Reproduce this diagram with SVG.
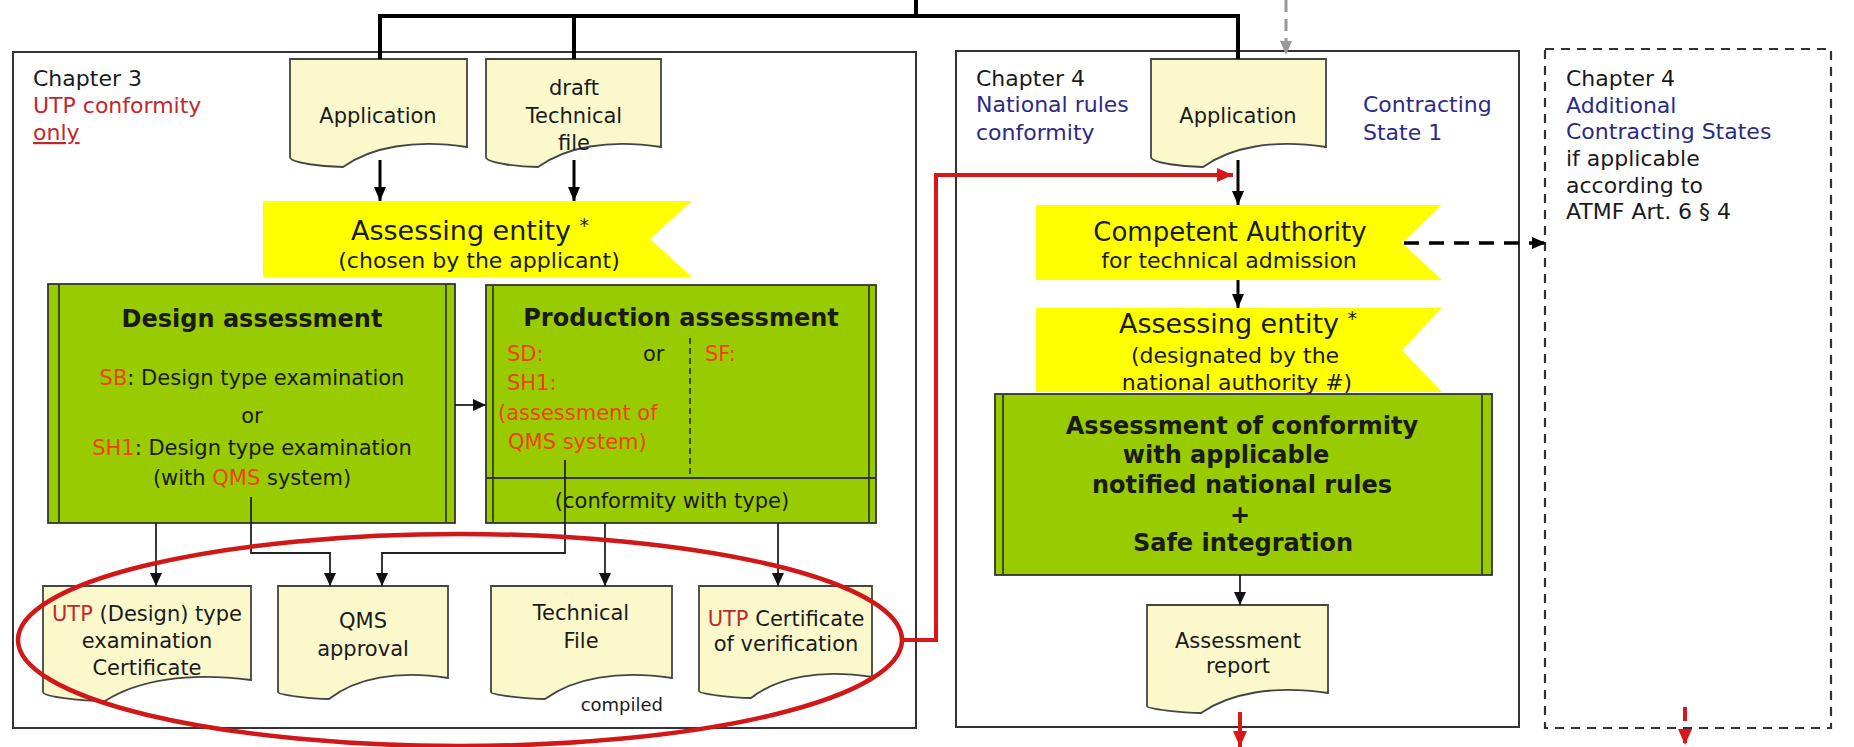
<svg xmlns="http://www.w3.org/2000/svg" width="1854" height="747" viewBox="0 0 1854 747">
<style>
  text { font-family: "DejaVu Sans", "Liberation Sans", sans-serif; fill: #1a1a1a; }
  .t { font-size: 22px; }
  .s { font-size: 21px; }
  .c { text-anchor: middle; }
  .b { font-weight: bold; font-size: 24px; }
  .big { font-size: 27px; }
  .red { fill: #C0282D; }
  .or { fill: #F0400F; }
  .navy { fill: #2B2B85; }
  .frame { fill: #fff; stroke: #333; stroke-width: 2; }
  .dframe { fill: #fff; stroke: #333; stroke-width: 2.2; stroke-dasharray: 9 7; }
  .doc { fill: #FBF8CC; stroke: #444; stroke-width: 1.8; }
  .green { fill: #99CC00; stroke: #333; stroke-width: 1.8; }
  .inner { stroke: #3a4d00; stroke-width: 2; fill: none; }
  .banner { fill: #FFFF00; }
  .thick { stroke: #000; stroke-width: 4; fill: none; }
  .arr3 { stroke: #000; stroke-width: 3; fill: none; }
  .thin { stroke: #222; stroke-width: 1.8; fill: none; }
  .redl { stroke: #D81818; stroke-width: 4; fill: none; }
</style>
<defs>
  <marker id="ah" markerUnits="userSpaceOnUse" markerWidth="16" markerHeight="16" refX="14" refY="8" orient="auto">
    <path d="M0,2 L14,8 L0,14 z" fill="#000"/>
  </marker>
  <marker id="ahs" markerUnits="userSpaceOnUse" markerWidth="14" markerHeight="14" refX="13" refY="7" orient="auto">
    <path d="M0,1 L13,7 L0,13 z" fill="#111"/>
  </marker>
  <marker id="ahr" markerUnits="userSpaceOnUse" markerWidth="18" markerHeight="18" refX="16" refY="9" orient="auto">
    <path d="M0,2 L16,9 L0,16 z" fill="#D81818"/>
  </marker>
  <marker id="ahg" markerUnits="userSpaceOnUse" markerWidth="16" markerHeight="16" refX="14" refY="8" orient="auto">
    <path d="M0,2 L14,8 L0,14 z" fill="#999"/>
  </marker>
</defs>
<rect width="1854" height="747" fill="#fff"/>

<!-- chapter frames -->
<g id="chapter3">
  <rect class="frame" x="13" y="52" width="903" height="676"/>
  <text class="t" x="33" y="86">Chapter 3</text>
  <text class="t red" x="33" y="113">UTP conformity</text>
  <text class="t red" x="33" y="140" text-decoration="underline">only</text>
</g>
<g id="chapter4">
  <rect class="frame" x="956" y="51" width="563" height="676"/>
  <text class="t" x="976" y="86">Chapter 4</text>
  <text class="t navy" x="976" y="112">National rules</text>
  <text class="t navy" x="976" y="140">conformity</text>
  <text class="t navy" x="1363" y="112">Contracting</text>
  <text class="t navy" x="1363" y="140">State  1</text>
</g>
<g id="chapter4-additional">
  <rect class="dframe" x="1545" y="49" width="286" height="679"/>
  <text class="t" x="1566" y="86">Chapter 4</text>
  <text class="t navy" x="1566" y="113">Additional</text>
  <text class="t navy" x="1566" y="139">Contracting States</text>
  <text class="t" x="1566" y="166">if applicable</text>
  <text class="t" x="1566" y="193">according to</text>
  <text class="t" x="1566" y="219">ATMF Art. 6 § 4</text>
</g>

<!-- documents -->
<g id="doc-application-3">
  <path class="doc" d="M290,59 H467 V147 C414,139 371,147 343,167 C325,167 290,163 290,157 Z"/>
  <text class="s c" x="378" y="123">Application</text>
</g>
<g id="doc-draft-tf">
  <path class="doc" d="M486,59 H661 V147 C608,139 566,147 538,167 C520,167 486,163 486,157 Z"/>
  <text class="s c" x="574" y="95">draft</text>
  <text class="s c" x="574" y="123">Technical</text>
  <text class="s c" x="574" y="150">file</text>
</g>
<g id="doc-application-4">
  <path class="doc" d="M1151,59 H1326 V147 C1273,139 1231,147 1203,167 C1185,167 1151,163 1151,157 Z"/>
  <text class="s c" x="1238" y="123">Application</text>
</g>
<g id="doc-utp-type-cert">
  <path class="doc" d="M43,586 H251 V680 C188,672 138,680 105,701 C84,701 43,697 43,692 Z"/>
  <text class="s c" x="147" y="621"><tspan class="red">UTP</tspan> (Design) type</text>
  <text class="s c" x="147" y="648">examination</text>
  <text class="s c" x="147" y="675">Certificate</text>
</g>
<g id="doc-qms-approval">
  <path class="doc" d="M278,586 H448 V678 C397,670 356,678 329,699 C312,699 278,695 278,692 Z"/>
  <text class="s c" x="363" y="628">QMS</text>
  <text class="s c" x="363" y="656">approval</text>
</g>
<g id="doc-technical-file">
  <path class="doc" d="M491,586 H672 V678 C618,670 574,678 545,699 C527,699 491,695 491,692 Z"/>
  <text class="s c" x="581" y="620">Technical</text>
  <text class="s c" x="581" y="648">File</text>
  <text x="663" y="711" style="font-size:18px;text-anchor:end">compiled</text>
</g>
<g id="doc-utp-verif-cert">
  <path class="doc" d="M699,586 H872 V677 C820,669 778,677 751,698 C733,698 699,694 699,691 Z"/>
  <text class="s c" x="786" y="626"><tspan class="red">UTP</tspan> Certificate</text>
  <text class="s c" x="786" y="651">of verification</text>
</g>
<g id="doc-assessment-report">
  <path class="doc" d="M1147,605 H1328 V693 C1274,685 1230,693 1201,713 C1183,713 1147,709 1147,706 Z"/>
  <text class="s c" x="1238" y="648">Assessment</text>
  <text class="s c" x="1238" y="673">report</text>
</g>

<!-- banners -->
<g id="banner-assessing-1">
  <polygon class="banner" points="263,201 692,201 650,239 692,277 263,277"/>
  <text class="big c" x="470" y="240">Assessing entity <tspan style="font-size:19px" dy="-8">*</tspan></text>
  <text class="t c" x="479" y="268">(chosen by the applicant)</text>
</g>
<g id="banner-competent">
  <polygon class="banner" points="1036,205 1442,205 1402,243 1442,280 1036,280"/>
  <text class="c" style="font-size:26px" x="1230" y="241">Competent Authority</text>
  <text class="t c" x="1229" y="268">for technical admission</text>
</g>
<g id="banner-assessing-2">
  <polygon class="banner" points="1036,308 1442,308 1402,350 1442,392 1036,392"/>
  <text class="big c" x="1238" y="333">Assessing entity <tspan style="font-size:19px" dy="-8">*</tspan></text>
  <text class="t c" x="1235" y="363">(designated by the</text>
  <text class="t c" x="1237" y="390">national authority #)</text>
</g>

<!-- green process boxes -->
<g id="design-assessment">
  <rect class="green" x="48" y="284" width="407" height="239"/>
  <line class="inner" x1="59" y1="285" x2="59" y2="522"/>
  <line class="inner" x1="446" y1="285" x2="446" y2="522"/>
  <text class="b c" x="252" y="327">Design assessment</text>
  <text class="s c" x="252" y="385"><tspan class="or">SB</tspan>: Design type examination</text>
  <text class="s c" x="252" y="423">or</text>
  <text class="s c" x="252" y="455"><tspan class="or">SH1</tspan>: Design type examination</text>
  <text class="s c" x="252" y="485">(with <tspan class="or">QMS</tspan> system)</text>
</g>
<g id="production-assessment">
  <rect class="green" x="486" y="285" width="390" height="238"/>
  <line class="inner" x1="493" y1="286" x2="493" y2="522"/>
  <line class="inner" x1="869" y1="286" x2="869" y2="522"/>
  <line x1="486" y1="478" x2="876" y2="478" stroke="#333" stroke-width="1.8"/>
  <line x1="690" y1="338" x2="690" y2="478" stroke="#222" stroke-width="1.5" stroke-dasharray="6 4"/>
  <text class="b c" x="681" y="326">Production assessment</text>
  <text class="s or" x="507" y="361">SD:</text>
  <text class="s" x="643" y="361">or</text>
  <text class="s or" x="705" y="361">SF:</text>
  <text class="s or" x="507" y="390">SH1:</text>
  <text class="s or" x="498" y="420">(assessment of</text>
  <text class="s or" x="508" y="449">QMS system)</text>
  <text class="s c" x="672" y="508">(conformity with type)</text>
</g>
<g id="national-assessment">
  <rect class="green" x="995" y="394" width="497" height="181"/>
  <line class="inner" x1="1003" y1="395" x2="1003" y2="574"/>
  <line class="inner" x1="1482" y1="395" x2="1482" y2="574"/>
  <text class="b c" x="1242" y="434">Assessment of conformity</text>
  <text class="b c" x="1226" y="463">with applicable</text>
  <text class="b c" x="1242" y="493">notified national rules</text>
  <text class="b c" x="1240" y="523">+</text>
  <text class="b c" x="1243" y="551">Safe integration</text>
</g>

<!-- connectors -->
<g id="connectors">
  <polyline class="thick" points="380,59 380,16 1238,16 1238,59"/>
  <line class="thick" x1="574" y1="16" x2="574" y2="59"/>
  <line class="thick" x1="916" y1="0" x2="916" y2="16"/>
  <line x1="1286" y1="0" x2="1286" y2="55" stroke="#999" stroke-width="3" stroke-dasharray="12 7" marker-end="url(#ahg)"/>
  <line class="arr3" x1="380" y1="160" x2="380" y2="201" marker-end="url(#ah)"/>
  <line class="arr3" x1="574" y1="160" x2="574" y2="201" marker-end="url(#ah)"/>
  <line class="arr3" x1="1238" y1="160" x2="1238" y2="205" marker-end="url(#ah)"/>
  <line class="arr3" x1="1238" y1="280" x2="1238" y2="308" marker-end="url(#ah)"/>
  <line x1="1404" y1="243" x2="1546" y2="243" stroke="#000" stroke-width="3.5" stroke-dasharray="15 10" marker-end="url(#ah)"/>
  <line class="thin" x1="455" y1="405" x2="486" y2="405" marker-end="url(#ahs)"/>
  <line class="thin" x1="156" y1="523" x2="156" y2="586" marker-end="url(#ahs)"/>
  <polyline class="thin" points="251,497 251,553 330,553 330,586" marker-end="url(#ahs)"/>
  <polyline class="thin" points="565,460 565,553 382,553 382,586" marker-end="url(#ahs)"/>
  <line class="thin" x1="605" y1="523" x2="605" y2="586" marker-end="url(#ahs)"/>
  <line class="thin" x1="778" y1="523" x2="778" y2="586" marker-end="url(#ahs)"/>
  <line class="thin" x1="1240" y1="575" x2="1240" y2="605" marker-end="url(#ahs)"/>
  <ellipse cx="460" cy="640" rx="442" ry="106" fill="none" stroke="#D01818" stroke-width="4.5"/>
  <polyline class="redl" points="901,640 936,640 936,175 1233,175" marker-end="url(#ahr)"/>
  <line class="redl" x1="1240" y1="712" x2="1240" y2="747" marker-end="url(#ahr)"/>
  <line x1="1685" y1="707" x2="1685" y2="745" stroke="#D81818" stroke-width="4" stroke-dasharray="14 8" marker-end="url(#ahr)"/>
</g>
</svg>
